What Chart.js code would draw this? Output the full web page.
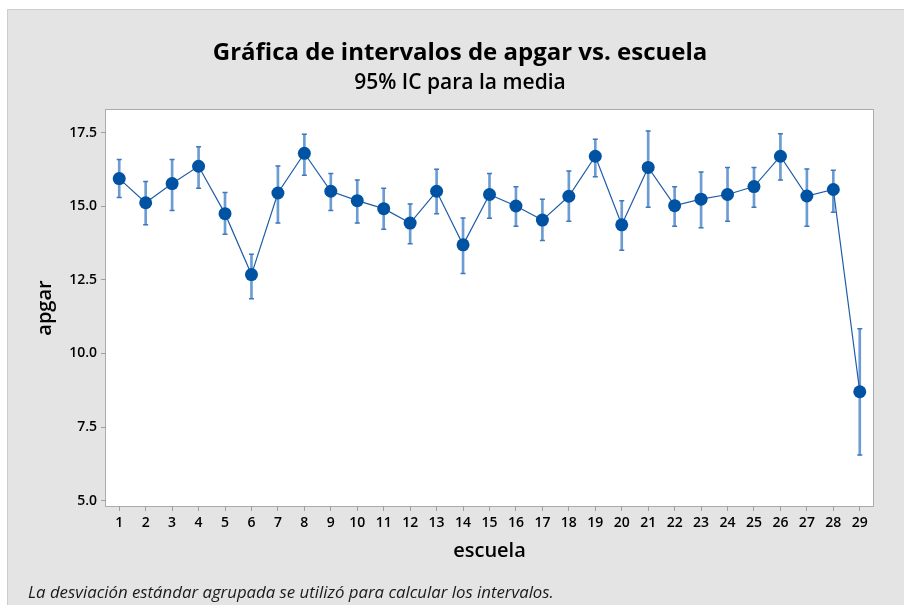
<!DOCTYPE html>
<html>
<head>
<meta charset="utf-8">
<script src="https://cdn.jsdelivr.net/npm/chart.js@4"></script>
<style>
  html, body { margin: 0; padding: 0; background: #fff; }
  canvas { display: block; }
</style>
</head>
<body>
<canvas id="chart" width="904" height="605"></canvas>
<script>
// escuela (x categories)
const escuelas = ['1', '2', '3', '4', '5', '6', '7', '8', '9', '10', '11', '12', '13', '14', '15',
                  '16', '17', '18', '19', '20', '21', '22', '23', '24', '25', '26', '27', '28', '29'];

// mean apgar per school
const medias = [15.94, 15.12, 15.77, 16.36, 14.75, 12.68, 15.45, 16.80, 15.51, 15.19,
                14.92, 14.43, 15.51, 13.69, 15.40, 15.01, 14.53, 15.34, 16.70, 14.37,
                16.32, 15.02, 15.24, 15.40, 15.67, 16.70, 15.35, 15.57, 8.70];

// 95% CI bounds
const inferior = [15.30, 14.37, 14.86, 15.61, 14.05, 11.86, 14.43, 16.05, 14.86, 14.43,
                  14.22, 13.73, 14.75, 12.72, 14.59, 14.32, 13.84, 14.49, 16.00, 13.51,
                  14.97, 14.32, 14.27, 14.49, 14.97, 15.89, 14.32, 14.80, 6.55];
const superior = [16.59, 15.84, 16.59, 17.02, 15.47, 13.37, 16.37, 17.45, 16.11, 15.89,
                  15.61, 15.08, 16.26, 14.60, 16.11, 15.66, 15.24, 16.20, 17.28, 15.19,
                  17.56, 15.66, 16.16, 16.32, 16.32, 17.46, 16.27, 16.22, 10.84];

// y axis tick values
const yTicks = [5.0, 7.5, 10.0, 12.5, 15.0, 17.5];

const FONT = "'Open Sans', 'DejaVu Sans', sans-serif";
const barColor = '#6b9cd3';
const capColor = '#3f78bb';

// background panel, plot frame and footnote
const frame = {
    id: 'frame',
    afterLayout(chart) {
        // move title / subtitle center a bit to the right, like the reference
        chart.boxes.forEach(b => {
            if (!b.axis && b.position === 'top') b.left += 40;
        });
    },
    beforeDraw(chart) {
        const ctx = chart.ctx;
        const a = chart.chartArea;
        ctx.save();
        ctx.fillStyle = '#ffffff';
        ctx.fillRect(0, 0, chart.width, chart.height);
        ctx.fillStyle = '#e4e4e4';
        ctx.fillRect(7, 9, chart.width - 7, chart.height - 9);
        ctx.strokeStyle = '#cdcdcd';
        ctx.lineWidth = 1;
        ctx.beginPath();
        ctx.moveTo(7.5, chart.height);
        ctx.lineTo(7.5, 9.5);
        ctx.lineTo(chart.width, 9.5);
        ctx.stroke();
        ctx.fillStyle = '#ffffff';
        ctx.fillRect(a.left, a.top, a.right - a.left, a.bottom - a.top);
        ctx.strokeStyle = '#ababab';
        ctx.strokeRect(a.left - 0.5, a.top - 0.5, a.right - a.left + 1, a.bottom - a.top + 1);
        ctx.restore();
    },
    afterDraw(chart) {
        const ctx = chart.ctx;
        ctx.save();
        ctx.fillStyle = '#1a1a1a';
        ctx.font = 'italic 16.8px ' + FONT;
        ctx.textBaseline = 'middle';
        ctx.fillText('La desviación estándar agrupada se utilizó para calcular los intervalos.', 28, 593);
        ctx.restore();
    }
};

const ctx = document.getElementById('chart').getContext('2d');
new Chart(ctx, {
    type: 'bar',
    data: {
        labels: escuelas,
        datasets: [
            {
                type: 'line',
                label: 'apgar',
                data: medias,
                borderColor: '#1f5ca8',
                borderWidth: 1.2,
                pointRadius: 6.5,
                pointHoverRadius: 6.5,
                pointBackgroundColor: '#0052a3',
                pointBorderWidth: 0,
                tension: 0,
                order: 0
            },
            {
                type: 'line',
                label: 'sup',
                data: superior,
                showLine: false,
                pointStyle: 'line',
                pointRadius: 2.5,
                pointBorderColor: capColor,
                pointBorderWidth: 1.5,
                order: 1
            },
            {
                type: 'line',
                label: 'inf',
                data: inferior,
                showLine: false,
                pointStyle: 'line',
                pointRadius: 2.5,
                pointBorderColor: capColor,
                pointBorderWidth: 1.5,
                order: 1
            },
            {
                label: 'IC',
                data: inferior.map((v, i) => [v, superior[i]]),
                backgroundColor: barColor,
                barThickness: 2,
                borderWidth: 0,
                order: 2
            }
        ]
    },
    options: {
        responsive: false,
        animation: false,
        devicePixelRatio: 1,
        layout: { padding: { left: 7, right: 31, top: 9, bottom: 40 } },
        plugins: {
            legend: { display: false },
            tooltip: { enabled: false },
            title: {
                display: true,
                text: 'Gráfica de intervalos de apgar vs. escuela',
                color: '#000',
                font: { family: FONT, size: 24, weight: '700' },
                padding: { top: 30, bottom: 2 }
            },
            subtitle: {
                display: true,
                text: '95% IC para la media',
                color: '#000',
                font: { family: FONT, size: 21, weight: '600' },
                padding: { top: 1, bottom: 14 }
            }
        },
        scales: {
            x: {
                type: 'category',
                offset: true,
                grid: { offset: false, drawOnChartArea: false, tickLength: 5, color: '#a0a0a0' },
                border: { display: false },
                ticks: { color: '#000', padding: 4, maxRotation: 0, autoSkip: false,
                         font: { family: FONT, size: 14, weight: '600' } },
                title: { display: true, text: 'escuela', color: '#000',
                         font: { family: FONT, size: 20, weight: '600' },
                         padding: { top: 0, bottom: 2 } },
                afterFit(scale) { scale.height = 59; }
            },
            y: {
                min: 4.82,
                max: 18.27,
                grid: { drawOnChartArea: false, tickLength: 5, color: '#a0a0a0' },
                border: { display: false },
                afterBuildTicks(axis) { axis.ticks = yTicks.map(v => ({ value: v })); },
                ticks: { color: '#000', padding: 4, includeBounds: false,
                         font: { family: FONT, size: 14, weight: '600' },
                         callback: v => Number(v).toFixed(1) },
                title: { display: true, text: 'apgar', color: '#000',
                         font: { family: FONT, size: 20, weight: '600' },
                         padding: { top: 26, bottom: 0 } },
                afterFit(scale) { scale.width = 99; }
            }
        }
    },
    plugins: [frame]
});
</script>
</body>
</html>
